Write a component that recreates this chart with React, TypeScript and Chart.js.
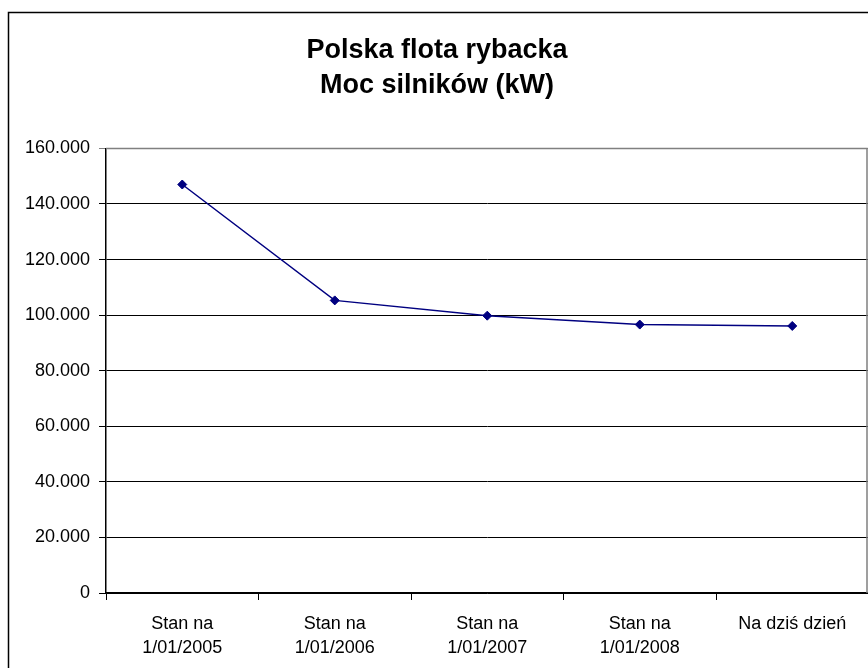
import React, { useEffect, useRef } from "react";
import { Chart, registerables } from "chart.js";

Chart.register(...registerables);

const categories: string[][] = [
  ["Stan na", "1/01/2005"],
  ["Stan na", "1/01/2006"],
  ["Stan na", "1/01/2007"],
  ["Stan na", "1/01/2008"],
  ["Na dziś dzień"],
];
const powerKW: number[] = [147000, 105300, 99800, 96600, 96100];
const titleLines: string[] = ["Polska flota rybacka", "Moc silników (kW)"];
const yMin = 0;
const yMax = 160000;
const yStep = 20000;

const FONT = "'Liberation Sans', Arial, sans-serif";
const CW = 874;
const CH = 668;

const fmt = (v: number) =>
  String(Math.round(v)).replace(/\B(?=(\d{3})+(?!\d))/g, ".");

const framePlugin = {
  id: "frame",
  beforeDraw(chart: any) {
    const ctx = chart.ctx;
    ctx.save();
    ctx.fillStyle = "#ffffff";
    ctx.fillRect(0, 0, chart.width, chart.height);
    ctx.strokeStyle = "#000000";
    ctx.lineWidth = 1.5;
    ctx.beginPath();
    ctx.moveTo(8.5, chart.height + 2);
    ctx.lineTo(8.5, 12.5);
    ctx.lineTo(chart.width + 2, 12.5);
    ctx.stroke();
    ctx.restore();
  },
  beforeDatasetsDraw(chart: any) {
    const { ctx, chartArea } = chart;
    const rx = chartArea.right - 1.5;
    ctx.save();
    ctx.strokeStyle = "#808080";
    ctx.lineWidth = 1.5;
    ctx.beginPath();
    ctx.moveTo(chartArea.left, chartArea.top);
    ctx.lineTo(rx, chartArea.top);
    ctx.lineTo(rx, chartArea.bottom);
    ctx.stroke();
    ctx.restore();
  },
};

export default function App() {
  const ref = useRef<HTMLCanvasElement | null>(null);
  useEffect(() => {
    if (!ref.current) return;
    const chart = new Chart(ref.current, {
      type: "line",
      data: {
        labels: categories,
        datasets: [
          {
            data: powerKW,
            borderColor: "#000080",
            backgroundColor: "#000080",
            borderWidth: 1.5,
            pointStyle: "rectRot",
            pointRadius: 4.5,
            pointBorderWidth: 1,
            pointBackgroundColor: "#000080",
            pointBorderColor: "#000080",
            tension: 0,
          },
        ],
      },
      options: {
        animation: false,
        responsive: false,
        maintainAspectRatio: false,
        layout: { padding: { left: 0, right: 0, top: 0, bottom: 0 } },
        plugins: {
          legend: { display: false },
          tooltip: { enabled: false },
          title: {
            display: true,
            text: titleLines,
            color: "#000000",
            font: { family: FONT, size: 27, weight: "bold", lineHeight: 1.285 },
            padding: { top: 33.5, bottom: 45.5 },
          },
        },
        scales: {
          x: {
            offset: true,
            afterFit: (s: any) => {
              s.height = 75;
              s.paddingLeft = 0;
              s.paddingRight = 0;
            },
            grid: {
              offset: true,
              drawOnChartArea: false,
              drawTicks: true,
              tickLength: 7,
              color: "#000000",
            },
            border: { display: true, color: "#000000", width: 1.5 },
            ticks: {
              color: "#000000",
              font: { family: FONT, size: 18, lineHeight: 1.33 },
              padding: 12.5,
              maxRotation: 0,
              autoSkip: false,
            },
          },
          y: {
            min: yMin,
            max: yMax,
            afterFit: (s: any) => {
              s.width = 106;
              s.paddingTop = 0;
              s.paddingBottom = 0;
            },
            grid: {
              color: (c: any) =>
                c.tick && c.tick.value === yMax ? "#808080" : "#000000",
              lineWidth: 1,
              drawTicks: true,
              tickLength: 7,
            },
            border: { display: true, color: "#000000", width: 1.5 },
            ticks: {
              stepSize: yStep,
              color: "#000000",
              padding: 9,
              font: { family: FONT, size: 18 },
              callback: (v: any) => fmt(Number(v)),
            },
          },
        },
      },
      plugins: [framePlugin],
    });
    return () => chart.destroy();
  }, []);
  return (
    <div style={{ position: "fixed", left: 0, top: 0, width: 868, height: 668, overflow: "hidden", background: "#fff" }}>
      <canvas ref={ref} width={CW} height={CH} style={{ display: "block", width: CW, height: CH }} />
    </div>
  );
}
